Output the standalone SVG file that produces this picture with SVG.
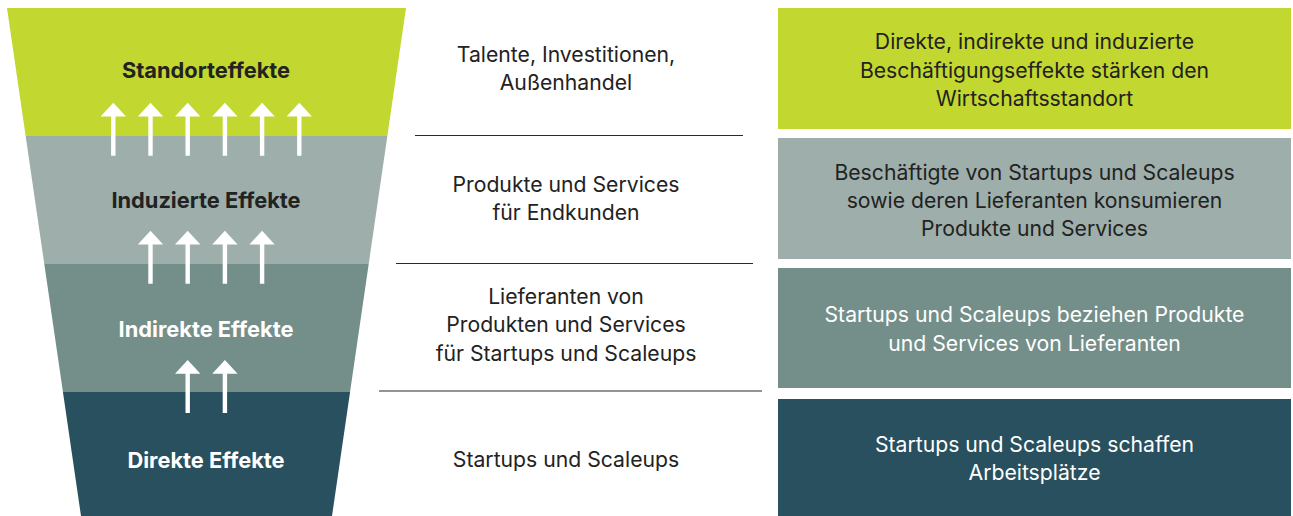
<svg xmlns="http://www.w3.org/2000/svg" width="1293" height="516" viewBox="0 0 1293 516">
  <style>
    .lbl { font-family: Inter, "Liberation Sans", Arial, sans-serif; font-size: 21.2px; text-anchor: middle; }
    .bold { font-weight: 700; font-size: 21.8px; }
    .dark { fill: #222222; }
    .light { fill: #ffffff; }
    .sep { stroke: #2a2a2a; stroke-width: 1.2; fill: none; }
    .c1 { fill: #c2d72f; }
    .c2 { fill: #9eaeaa; }
    .c3 { fill: #748f8a; }
    .c4 { fill: #28505e; }
  </style>
  <defs>
    <!-- upward white arrow, apex at origin -->
    <path id="arrow" d="M0,0 L12.7,13.7 L2.2,13.7 L2.2,53 L-2.2,53 L-2.2,13.7 L-12.7,13.7 Z" fill="#ffffff"/>
  </defs>

  <rect width="1293" height="516" fill="#ffffff"/>

  <!-- funnel bands -->
  <g id="standorteffekte">
    <polygon class="c1" points="7,8 406,8 387.35,136 25.65,136"/>
    <text class="lbl bold dark" x="206" y="78">Standorteffekte</text>
  </g>
  <g id="induzierte-effekte">
    <polygon class="c2" points="25.65,136 387.35,136 368.71,264 44.29,264"/>
    <text class="lbl bold dark" x="206" y="208">Induzierte Effekte</text>
  </g>
  <g id="indirekte-effekte">
    <polygon class="c3" points="44.29,264 368.71,264 350.06,392 62.94,392"/>
    <text class="lbl bold light" x="206" y="337">Indirekte Effekte</text>
  </g>
  <g id="direkte-effekte">
    <polygon class="c4" points="62.94,392 350.06,392 332,516 81,516"/>
    <text class="lbl bold light" x="206" y="468">Direkte Effekte</text>
  </g>

  <!-- arrows between levels -->
  <g id="connectors">
    <use href="#arrow" x="113.3" y="102.7"/>
    <use href="#arrow" x="150.5" y="102.7"/>
    <use href="#arrow" x="187.7" y="102.7"/>
    <use href="#arrow" x="224.9" y="102.7"/>
    <use href="#arrow" x="262.1" y="102.7"/>
    <use href="#arrow" x="299.3" y="102.7"/>

    <use href="#arrow" x="150.5" y="230.7"/>
    <use href="#arrow" x="187.7" y="230.7"/>
    <use href="#arrow" x="224.9" y="230.7"/>
    <use href="#arrow" x="262.1" y="230.7"/>

    <use href="#arrow" x="187.7" y="360"/>
    <use href="#arrow" x="224.9" y="360"/>
  </g>

  <!-- middle column: what each level covers -->
  <g id="separators">
    <line class="sep" x1="415" y1="135.5" x2="743" y2="135.5"/>
    <line class="sep" x1="396" y1="263.5" x2="753" y2="263.5"/>
    <line class="sep" x1="379" y1="391" x2="762" y2="391"/>
  </g>
  <g id="scope-standort">
    <text class="lbl dark" x="566" y="62">Talente, Investitionen,</text>
    <text class="lbl dark" x="566" y="90">Außenhandel</text>
  </g>
  <g id="scope-induziert">
    <text class="lbl dark" x="566" y="192">Produkte und Services</text>
    <text class="lbl dark" x="566" y="220">für Endkunden</text>
  </g>
  <g id="scope-indirekt">
    <text class="lbl dark" x="566" y="304">Lieferanten von</text>
    <text class="lbl dark" x="566" y="332">Produkten und Services</text>
    <text class="lbl dark" x="566" y="360.5">für Startups und Scaleups</text>
  </g>
  <g id="scope-direkt">
    <text class="lbl dark" x="566" y="467">Startups und Scaleups</text>
  </g>

  <!-- right column: descriptions -->
  <g id="desc-standort">
    <rect class="c1" x="778" y="8" width="513" height="121"/>
    <text class="lbl dark" x="1034.5" y="49.3">Direkte, indirekte und induzierte</text>
    <text class="lbl dark" x="1034.5" y="77.5">Beschäftigungseffekte stärken den</text>
    <text class="lbl dark" x="1034.5" y="105.7">Wirtschaftsstandort</text>
  </g>
  <g id="desc-induziert">
    <rect class="c2" x="778" y="138" width="513" height="121"/>
    <text class="lbl dark" x="1034.5" y="180">Beschäftigte von Startups und Scaleups</text>
    <text class="lbl dark" x="1034.5" y="208.3">sowie deren Lieferanten konsumieren</text>
    <text class="lbl dark" x="1034.5" y="236">Produkte und Services</text>
  </g>
  <g id="desc-indirekt">
    <rect class="c3" x="778" y="268" width="513" height="120"/>
    <text class="lbl light" x="1034.5" y="322.3">Startups und Scaleups beziehen Produkte</text>
    <text class="lbl light" x="1034.5" y="350.7">und Services von Lieferanten</text>
  </g>
  <g id="desc-direkt">
    <rect class="c4" x="778" y="399" width="513" height="117"/>
    <text class="lbl light" x="1034.5" y="452.3">Startups und Scaleups schaffen</text>
    <text class="lbl light" x="1034.5" y="480">Arbeitsplätze</text>
  </g>
</svg>
